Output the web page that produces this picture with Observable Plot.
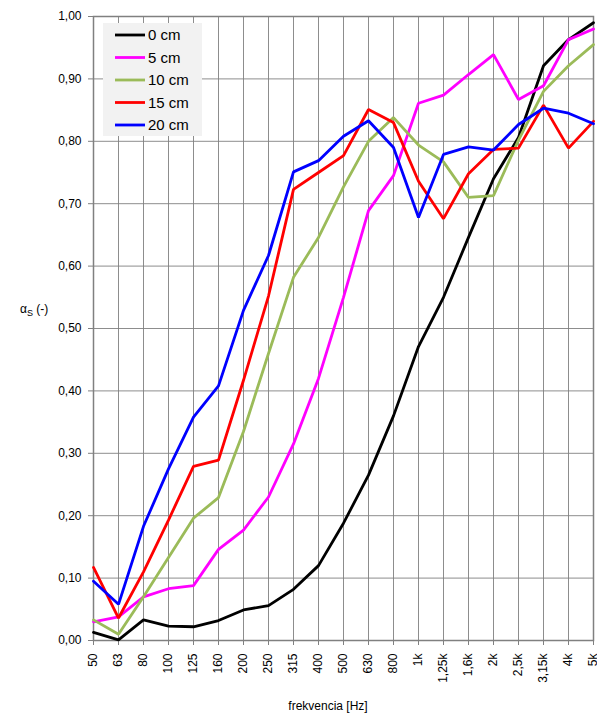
<!DOCTYPE html>
<html>
<head>
<meta charset="utf-8">
<script src="https://cdn.jsdelivr.net/npm/d3@7"></script>
<script src="https://cdn.jsdelivr.net/npm/@observablehq/plot@0.6"></script>
<style>
  html, body { margin: 0; padding: 0; background: #fff; }
  #chart { width: 597px; height: 713px; }
</style>
</head>
<body>
<div id="chart"></div>
<script>
const freqs = ["50","63","80","100","125","160","200","250","315","400","500","630","800","1k","1,25k","1,6k","2k","2,5k","3,15k","4k","5k"];
const seriesNames = ["0 cm","5 cm","10 cm","15 cm","20 cm"];
const seriesColors = ["#000000","#ff00ff","#9bbb59","#ff0000","#0000ff"];
const s0cm  = [0.013,0.001,0.033,0.023,0.022,0.032,0.049,0.056,0.082,0.120,0.188,0.265,0.360,0.471,0.550,0.646,0.740,0.806,0.921,0.963,0.990];
const s5cm  = [0.030,0.038,0.070,0.083,0.088,0.146,0.177,0.230,0.315,0.420,0.550,0.689,0.745,0.861,0.874,0.907,0.939,0.867,0.889,0.963,0.980];
const s10cm = [0.033,0.010,0.070,0.133,0.196,0.229,0.335,0.460,0.582,0.646,0.727,0.800,0.838,0.794,0.767,0.710,0.713,0.802,0.880,0.921,0.955];
const s15cm = [0.117,0.036,0.110,0.193,0.279,0.289,0.417,0.552,0.723,0.750,0.777,0.851,0.830,0.736,0.676,0.748,0.787,0.789,0.858,0.789,0.832];
const s20cm = [0.095,0.058,0.183,0.275,0.358,0.408,0.529,0.617,0.751,0.769,0.808,0.833,0.790,0.678,0.779,0.791,0.786,0.827,0.853,0.845,0.828];
const yTicks = [0,0.1,0.2,0.3,0.4,0.5,0.6,0.7,0.8,0.9,1.0];
const xTitle = "frekvencia [Hz]";

const allSeries = [s0cm, s5cm, s10cm, s15cm, s20cm];
const data = allSeries.flatMap((vals, si) => vals.map((v, i) => ({f: freqs[i], v, s: seriesNames[si]})));
const fmt = d => d.toFixed(2).replace(".", ",");
const font = "'Liberation Sans', Arial, sans-serif";

const plot = Plot.plot({
  width: 597,
  height: 713,
  marginLeft: 93,
  marginRight: 4,
  marginTop: 16,
  marginBottom: 73,
  style: {fontFamily: font, fontSize: "12px", color: "#000", background: "#fff", overflow: "visible"},
  x: {type: "point", domain: freqs, padding: 0},
  y: {domain: [0, 1]},
  color: {domain: seriesNames, range: seriesColors},
  marks: [
    Plot.gridX({stroke: "#808080", strokeOpacity: 1, strokeWidth: 0.9}),
    Plot.gridY(yTicks, {stroke: "#808080", strokeOpacity: 1, strokeWidth: 0.9}),
    Plot.frame({stroke: "#808080", strokeWidth: 1.5}),
    Plot.axisY(yTicks, {tickFormat: fmt, tickSize: 5, tickPadding: 7, label: null, stroke: "#808080", fontSize: 12}),
    Plot.axisX({tickRotate: -90, tickSize: 5, tickPadding: 8, label: null, stroke: "#808080", fontSize: 12}),
    Plot.line(data, {x: "f", y: "v", z: "s", stroke: "s", strokeWidth: 2.8, strokeLinejoin: "miter"})
  ]
});
document.getElementById("chart").appendChild(plot);

const svg = d3.select(plot);
// y-axis title with subscript
const yt = svg.append("text").attr("x", 20).attr("y", 313).attr("text-anchor", "start")
  .attr("font-family", font).attr("font-size", 12).attr("fill", "#000");
yt.append("tspan").text("α");
yt.append("tspan").attr("font-size", 9).attr("dy", 3).text("S");
yt.append("tspan").attr("dy", -3).text(" (-)");
// x-axis title
svg.append("text").attr("x", 328).attr("y", 710).attr("text-anchor", "middle")
  .attr("font-family", font).attr("font-size", 12).attr("fill", "#000").text(xTitle);
// legend
const lg = svg.append("g");
lg.append("rect").attr("x", 103).attr("y", 23).attr("width", 99).attr("height", 113).attr("fill", "#f2f2f2");
seriesNames.forEach((name, i) => {
  const cy = 35 + i * 22.5;
  lg.append("line").attr("x1", 115).attr("x2", 145).attr("y1", cy).attr("y2", cy)
    .attr("stroke", seriesColors[i]).attr("stroke-width", 2.8);
  lg.append("text").attr("x", 148).attr("y", cy).attr("dy", "0.35em").attr("text-anchor", "start")
    .attr("font-family", font).attr("font-size", 15).attr("fill", "#000").text(name);
});
</script>
</body>
</html>
